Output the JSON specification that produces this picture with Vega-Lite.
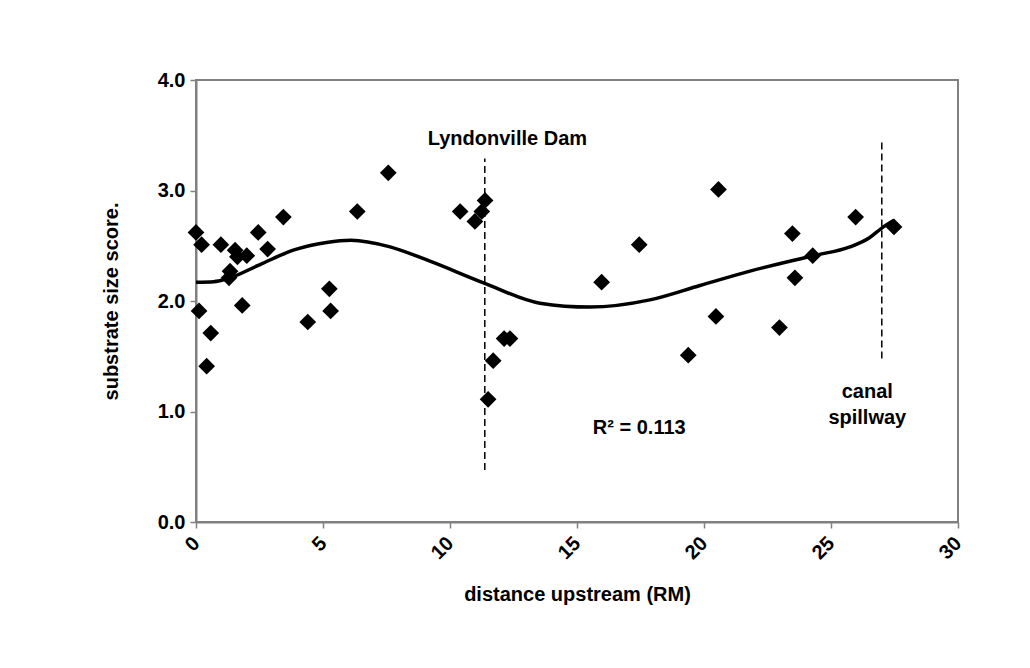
{
  "$schema": "https://vega.github.io/schema/vega-lite/v6.json",
  "width": 762,
  "height": 442,
  "autosize": {"type": "none"},
  "padding": {"left": 196, "top": 80, "right": 72, "bottom": 146},
  "background": "white",
  "config": {
    "font": "Liberation Sans",
    "view": {"stroke": "#808080", "strokeWidth": 2},
    "axis": {
      "domainColor": "#808080",
      "domainWidth": 2,
      "tickColor": "#808080",
      "tickWidth": 1.5,
      "tickSize": 6,
      "grid": false,
      "labelFont": "Liberation Sans",
      "labelFontWeight": "bold",
      "labelFontSize": 20,
      "labelColor": "black",
      "titleFont": "Liberation Sans",
      "titleFontWeight": "bold",
      "titleFontSize": 20,
      "titleColor": "black"
    }
  },
  "datasets": {
    "points": [
      {"distance": 0.0, "score": 2.62},
      {"distance": 0.22, "score": 2.51},
      {"distance": 0.98, "score": 2.51},
      {"distance": 1.54, "score": 2.46},
      {"distance": 1.63, "score": 2.40},
      {"distance": 2.0, "score": 2.41},
      {"distance": 2.45, "score": 2.62},
      {"distance": 2.82, "score": 2.47},
      {"distance": 3.44, "score": 2.76},
      {"distance": 1.34, "score": 2.27},
      {"distance": 1.30, "score": 2.21},
      {"distance": 0.12, "score": 1.91},
      {"distance": 0.58, "score": 1.71},
      {"distance": 0.42, "score": 1.41},
      {"distance": 1.82, "score": 1.96},
      {"distance": 4.4, "score": 1.81},
      {"distance": 5.25, "score": 2.11},
      {"distance": 5.3, "score": 1.91},
      {"distance": 6.35, "score": 2.81},
      {"distance": 7.57, "score": 3.16},
      {"distance": 10.4, "score": 2.81},
      {"distance": 11.38, "score": 2.91},
      {"distance": 11.25, "score": 2.81},
      {"distance": 10.98, "score": 2.72},
      {"distance": 12.36, "score": 1.66},
      {"distance": 12.13, "score": 1.66},
      {"distance": 11.7, "score": 1.46},
      {"distance": 11.5, "score": 1.11},
      {"distance": 15.97, "score": 2.17},
      {"distance": 17.45, "score": 2.51},
      {"distance": 19.38, "score": 1.51},
      {"distance": 20.47, "score": 1.86},
      {"distance": 20.57, "score": 3.01},
      {"distance": 22.97, "score": 1.76},
      {"distance": 23.48, "score": 2.61},
      {"distance": 23.58, "score": 2.21},
      {"distance": 24.28, "score": 2.41},
      {"distance": 25.97, "score": 2.76},
      {"distance": 27.48, "score": 2.67}
    ],
    "trend": [
      {"distance": 0.0, "score": 2.17},
      {"distance": 0.7, "score": 2.175},
      {"distance": 1.21, "score": 2.20},
      {"distance": 2.52, "score": 2.33},
      {"distance": 3.83, "score": 2.46},
      {"distance": 5.14, "score": 2.53},
      {"distance": 6.1, "score": 2.55},
      {"distance": 7.64, "score": 2.49},
      {"distance": 9.21, "score": 2.36},
      {"distance": 11.37, "score": 2.16},
      {"distance": 13.54, "score": 1.98},
      {"distance": 15.5, "score": 1.945},
      {"distance": 17.87, "score": 2.01},
      {"distance": 19.84, "score": 2.14},
      {"distance": 21.81, "score": 2.27},
      {"distance": 24.3, "score": 2.41},
      {"distance": 25.75, "score": 2.49},
      {"distance": 26.5, "score": 2.57},
      {"distance": 27.0, "score": 2.66},
      {"distance": 27.48, "score": 2.73}
    ],
    "markers": [
      {"distance": 11.37, "low": 0.47, "high": 3.29},
      {"distance": 27.0, "low": 1.48, "high": 3.44}
    ],
    "notes": [
      {"distance": 12.26, "score": 3.47, "label": "Lyndonville Dam"},
      {"distance": 17.45, "score": 0.85, "label": "R² = 0.113"},
      {"distance": 26.43, "score": 1.18, "label": "canal"},
      {"distance": 26.43, "score": 0.94, "label": "spillway"}
    ]
  },
  "layer": [
    {
      "data": {"name": "points"},
      "mark": {"type": "point", "shape": "diamond", "filled": true, "color": "black", "opacity": 1, "size": 280},
      "encoding": {
        "x": {
          "field": "distance",
          "type": "quantitative",
          "scale": {"domain": [0, 30], "nice": false, "zero": false},
          "axis": {
            "values": [0, 5, 10, 15, 20, 25, 30],
            "format": "d",
            "labelAngle": -45,
            "labelAlign": "right",
            "labelBaseline": "middle",
            "labelPadding": 12,
            "title": "distance upstream (RM)",
            "titlePadding": 22
          }
        },
        "y": {
          "field": "score",
          "type": "quantitative",
          "scale": {"domain": [0, 4], "nice": false, "zero": false},
          "axis": {
            "values": [0, 1, 2, 3, 4],
            "format": ".1f",
            "labelPadding": 5,
            "title": "substrate size score.",
            "titlePadding": 36
          }
        }
      }
    },
    {
      "data": {"name": "trend"},
      "mark": {"type": "line", "color": "black", "strokeWidth": 3.5, "interpolate": "monotone"},
      "encoding": {
        "x": {"field": "distance", "type": "quantitative"},
        "y": {"field": "score", "type": "quantitative"}
      }
    },
    {
      "data": {"name": "markers"},
      "mark": {"type": "rule", "color": "black", "strokeWidth": 1.5, "strokeDash": [7, 4]},
      "encoding": {
        "x": {"field": "distance", "type": "quantitative"},
        "y": {"field": "low", "type": "quantitative"},
        "y2": {"field": "high"}
      }
    },
    {
      "data": {"name": "notes"},
      "mark": {"type": "text", "font": "Liberation Sans", "fontWeight": "bold", "fontSize": 20, "color": "black", "align": "center", "baseline": "middle"},
      "encoding": {
        "x": {"field": "distance", "type": "quantitative"},
        "y": {"field": "score", "type": "quantitative"},
        "text": {"field": "label"}
      }
    }
  ]
}
